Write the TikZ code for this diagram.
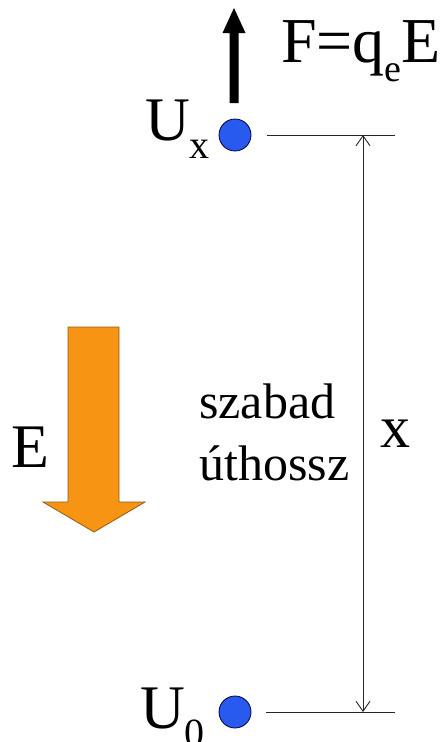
\documentclass[tikz,border=0pt]{standalone}
\usepackage{fontspec}
\setmainfont{Liberation Serif}
\usetikzlibrary{arrows.meta}
\begin{document}
\begin{tikzpicture}[x=1pt,y=-1pt,
  dot/.style={circle,draw=black!80!blue,line width=0.8pt,fill={rgb,255:red,40;green,90;blue,240},minimum size=32pt,inner sep=0pt},
  lbl/.style={inner sep=0pt,font=\fontsize{62}{62}\selectfont},
  thin/.style={line width=0.9pt,draw=black!85}]
\useasboundingbox (0,0) rectangle (445,742);
% dots
\node[dot] (ux) at (235,135) {};
\node[dot] (u0) at (235,712) {};
% labels
\node[lbl,anchor=base west] (uxl) at (145,140) {U\raisebox{-0.3em}{\fontsize{40}{40}\selectfont x}};
\node[lbl,anchor=base west] (u0l) at (140,728) {U\raisebox{-0.3em}{\fontsize{40}{40}\selectfont 0}};
\node[lbl,anchor=base west,font=\fontsize{64}{64}\selectfont] (force) at (281,62) {F=q\raisebox{-0.3em}{\fontsize{38}{38}\selectfont e}E};
\node[lbl,anchor=base west] (el) at (11,467) {E};
\node[lbl,anchor=base west,font=\fontsize{60}{60}\selectfont] (xl) at (380,447) {x};
\node[inner sep=0pt,anchor=base west,font=\fontsize{50}{50}\selectfont,align=left] (sz) at (199,418) {szabad};
\node[inner sep=0pt,anchor=base west,font=\fontsize{50}{50}\selectfont] (ut) at (199,480) {úthossz};
% horizontal lines
\coordinate (t1) at (267,135); \coordinate (t2) at (395,135);
\coordinate (b1) at (266,712); \coordinate (b2) at (395,712);
\draw[thin] (t1) -- (t2);
\draw[thin] (b1) -- (b2);
% dimension arrow
\coordinate (dt) at (363,135); \coordinate (db) at (363,712);
\draw[thin,{Straight Barb[length=10pt,width=14pt,line width=0.9pt]}-{Straight Barb[length=10pt,width=14pt,line width=0.9pt]}] (dt) -- (db);
% force arrow
\coordinate (fa) at (234,103); \coordinate (fb) at (234,8);
\fill[black] (229.5,103) -- (229.5,33) -- (222.5,33) -- (234,8) -- (245.5,33) -- (238.5,33) -- (238.5,103) -- cycle;
% orange E arrow
\filldraw[fill={rgb,255:red,247;green,148;blue,20},draw={rgb,255:red,150;green,90;blue,20},line width=0.8pt]
  (68,327) -- (119,327) -- (119,502) -- (145,502) -- (94,532) -- (43,502) -- (68,502) -- cycle;
\end{tikzpicture}
\end{document}
